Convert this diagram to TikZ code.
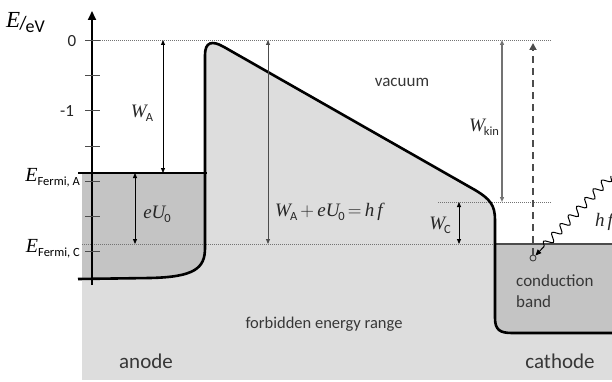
\documentclass[tikz,border=0pt]{standalone}
\usepackage{fontspec}
\newfontfamily\carl{Carlito}
\newfontfamily\serf{Liberation Serif}
\usetikzlibrary{arrows.meta,decorations.pathmorphing}
\definecolor{lightg}{RGB}{221,221,221}
\definecolor{darkg}{RGB}{196,196,196}
\definecolor{txt}{RGB}{55,55,55}
\newcommand\lbsub[1]{\raisebox{-4pt}{\carl\fontsize{12.5}{13}\selectfont #1}}
\newcommand\mv[1]{{\serf\itshape #1}}
\begin{document}
\begin{tikzpicture}[x=1pt,y=-1pt,
  dimarrow/.style={{Triangle[length=5pt,width=4pt]}-{Triangle[length=5pt,width=4pt]}, line width=0.8pt},
  dotline/.style={black!55, dash pattern=on 1pt off 1pt, line width=0.8pt},
  curve/.style={line width=2.6pt, line join=round},
  lab/.style={font=\carl\fontsize{17}{20}\selectfont, text=txt, inner sep=0pt},
  biglab/.style={font=\carl\fontsize{21}{24}\selectfont, text=txt, inner sep=0pt},
  mlab/.style={font=\fontsize{19}{22}\selectfont, text=black!85, inner sep=0pt},
  tick/.style={line width=0.7pt, black!70}]
\useasboundingbox (0,0) rectangle (612,382);
% regions
\fill[lightg] (82,244) rectangle (612,380);
\fill[darkg] (82,173) -- (205,173) -- (205,248) .. controls (205,268) and (195,277) .. (150,278) -- (82,278.5) -- cycle;
\fill[darkg] (495,244) -- (495,318) .. controls (495,330) and (500,333) .. (512,333) -- (612,333) -- (612,244) -- cycle;
\fill[lightg] (205,244) -- (205,55) .. controls (205,42) and (212,40) .. (224,47) -- (475,190) .. controls (490,199) and (495,205) .. (495,220) -- (495,244) -- cycle;
% level lines
\coordinate (z0) at (90,40);   \coordinate (z1) at (552,40);
\coordinate (fa0) at (78,173); \coordinate (fa1) at (207,173);
\coordinate (fc0) at (82,244); \coordinate (fc1) at (495,244); \coordinate (fc2) at (612,244);
\coordinate (wc0) at (438,202); \coordinate (wc1) at (552,202);
\draw[dotline] (z0) -- (z1);
\draw[dotline] (fc0) -- (fc1);
\draw[dotline] (wc0) -- (wc1);
\draw[line width=1.1pt] (fa0) -- (fa1);
\draw[line width=1.1pt, black!70] (fc1) -- (fc2);
% band curve
\draw[curve] (78,279) -- (150,278) .. controls (195,277) and (205,268) .. (205,248) -- (205,55) .. controls (205,42) and (212,40) .. (224,47) -- (475,190) .. controls (490,199) and (495,205) .. (495,220) -- (495,318) .. controls (495,330) and (500,333) .. (512,333) -- (612,333);
% axis
\coordinate (ax0) at (92,285); \coordinate (ax1) at (92,11);
\draw[line width=1.8pt, -{Triangle[length=9pt,width=8pt]}] (ax0) -- (ax1);
\foreach \k in {0,...,6} \draw[tick] (85,{40+35.3*\k}) -- (100,{40+35.3*\k});
\node[lab, text=black!85] (t0) at (72,41) {0};
\node[lab, text=black!85] (t1) at (67,111) {-1};
\node[inner sep=0pt, anchor=base west] (eunit) at (6,28) {\fontsize{23}{24}\selectfont\mv{E}\kern-1pt\raisebox{-2pt}{\carl\fontsize{19}{20}\selectfont/}\kern-1pt\raisebox{-5pt}{\carl\fontsize{18}{20}\selectfont eV}};
\node[inner sep=0pt, anchor=base east, font=\fontsize{20}{22}\selectfont] (efa) at (80,181) {\mv{E}\lbsub{Fermi, A}};
\node[inner sep=0pt, anchor=base east, font=\fontsize{20}{22}\selectfont] (efc) at (80,252) {\mv{E}\lbsub{Fermi, C}};
% dimension arrows
\coordinate (wa0) at (163,40); \coordinate (wa1) at (163,173);
\draw[dimarrow] (wa0) -- (wa1);
\node[mlab] (wal) at (142,113) {\mv{W}\kern-1pt\lbsub{A}};
\coordinate (eu0) at (135,173); \coordinate (eu1) at (135,244);
\draw[dimarrow] (eu0) -- (eu1);
\node[mlab] (eul) at (157,214) {\mv{eU}\kern-1pt\lbsub{0}};
\coordinate (hf0) at (268,40); \coordinate (hf1) at (268,244);
\draw[dimarrow, black!70] (hf0) -- (hf1);
\node[mlab] (hfl) at (329,212) {\mv{W}\kern-1pt\lbsub{A}\,+\,\mv{eU}\kern-1pt\lbsub{0}\,=\,\mv{h\,f}};
\coordinate (wk0) at (502,40); \coordinate (wk1) at (502,202);
\draw[dimarrow, black!55, line width=1.4pt] (wk0) -- (wk1);
\node[mlab] (wkl) at (484,127) {\mv{W}\kern-1pt\lbsub{kin}};
\coordinate (wcc0) at (459,202); \coordinate (wcc1) at (459,244);
\draw[dimarrow] (wcc0) -- (wcc1);
\node[mlab] (wcl) at (440,225) {\mv{W}\kern-1pt\lbsub{C}};
% electron and photon
\node[circle, draw=black!75, line width=0.9pt, inner sep=0pt, minimum size=6pt] (el) at (533,258) {};
\coordinate (top) at (533,43);
\draw[line width=2.4pt, black!70, dash pattern=on 7pt off 5pt, -{Triangle[length=7pt,width=7pt]}] (el.north) -- (top);
\coordinate (ph) at (611,176);
\draw[line width=1pt, -{Triangle[length=6pt,width=5pt]}, decorate, decoration={snake, amplitude=4pt, segment length=12pt, post length=7pt}] (ph) -- (el.north east);
\node[mlab] (hfp) at (604,222) {\mv{h\,f}};
% texts
\node[lab] (vac) at (402,82) {vacuum};
\node[lab, anchor=west] (cond) at (516,281) {conduction};
\node[lab, anchor=west] (band) at (516,302) {band};
\node[lab, font=\carl\fontsize{16.5}{20}\selectfont] (forb) at (324,324) {forbidden energy range};
\node[biglab] (an) at (146,361) {anode};
\node[biglab] (ca) at (560,361) {cathode};
\end{tikzpicture}
\end{document}
